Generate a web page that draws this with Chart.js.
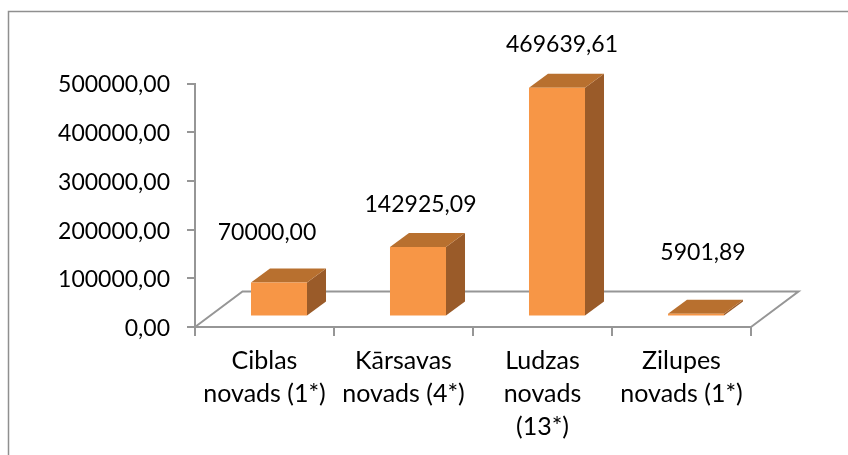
<!DOCTYPE html>
<html>
<head>
<meta charset="utf-8">
<style>html,body{margin:0;padding:0;background:#fff}canvas{display:block}</style>
<script src="https://cdn.jsdelivr.net/npm/chart.js@4"></script>
</head>
<body>
<canvas id="c" width="848" height="455"></canvas>
<script>
const categories = [["Ciblas","novads (1*)"],["Kārsavas","novads (4*)"],["Ludzas","novads","(13*)"],["Zilupes","novads (1*)"]];
const values = [70000.00, 142925.09, 469639.61, 5901.89];
const valueLabels = ["70000,00","142925,09","469639,61","5901,89"];

const FONT = '23px Lato';
const AXIS = '#969696';
const FRONT = '#F79646', TOP = '#B8702F', SIDE = '#9A5B29';
const depth = {x: 19, y: -14};
const floorDepth = {x: 47.5, y: -35.5};
const barShift = {x: 14.5, y: -10.5};
const labelOffsets = [[-12,-50],[2.5,-42],[5,-43],[7,-61]];

const box3d = {
  id: 'box3d',
  beforeDraw(chart){
    const c = chart.ctx;
    c.save();
    c.strokeStyle = '#8f8f8f'; c.lineWidth = 1.5;
    c.beginPath(); c.moveTo(8.5,455); c.lineTo(8.5,11.5); c.lineTo(848,11.5); c.stroke();
    c.restore();
  },
  beforeDatasetsDraw(chart){
    const c = chart.ctx, a = chart.chartArea;
    c.save();
    c.strokeStyle = AXIS; c.lineWidth = 2;
    c.beginPath();
    c.moveTo(a.left, a.bottom);
    c.lineTo(a.left + floorDepth.x, a.bottom + floorDepth.y);
    c.lineTo(a.right + floorDepth.x, a.bottom + floorDepth.y);
    c.lineTo(a.right, a.bottom);
    c.stroke();
    c.translate(barShift.x, barShift.y);
    chart.getDatasetMeta(0).data.forEach(b => {
      const l = b.x - b.width/2, r = b.x + b.width/2, t = b.y, bt = b.base;
      c.fillStyle = SIDE;
      c.beginPath(); c.moveTo(r,t); c.lineTo(r+depth.x,t+depth.y); c.lineTo(r+depth.x,bt+depth.y); c.lineTo(r,bt); c.closePath(); c.fill();
      c.fillStyle = TOP;
      c.beginPath(); c.moveTo(l,t); c.lineTo(l+depth.x,t+depth.y); c.lineTo(r+depth.x,t+depth.y); c.lineTo(r,t); c.closePath(); c.fill();
    });
  },
  afterDatasetsDraw(chart){
    const c = chart.ctx;
    c.restore();
    c.save();
    c.font = FONT; c.fillStyle = '#000'; c.textAlign = 'center'; c.textBaseline = 'middle';
    chart.getDatasetMeta(0).data.forEach((b,i) => {
      c.fillText(valueLabels[i], b.x + barShift.x + labelOffsets[i][0], b.y + barShift.y + labelOffsets[i][1]);
    });
    c.restore();
  }
};

new Chart(document.getElementById('c'), {
  type: 'bar',
  data: { labels: categories, datasets: [{ data: values, backgroundColor: FRONT, borderWidth: 0, barPercentage: 0.403, categoryPercentage: 1, clip: false }] },
  plugins: [box3d],
  options: {
    responsive: false, animation: false,
    layout: { padding: { top: 83.5, right: 97, left: 0, bottom: 0 } },
    plugins: { legend: {display:false}, tooltip: {enabled:false}, title: {display:false} },
    scales: {
      x: {
        afterFit(s){ s.height = 128; },
        grid: { drawOnChartArea:false, color:AXIS, lineWidth:2, tickLength:9, tickColor:AXIS },
        border: { color:AXIS, width:2 },
        ticks: { color:'#000', font:{family:'Lato', size:25, lineHeight:1.32}, padding:8, maxRotation:0, autoSkip:false }
      },
      y: {
        min: 0, max: 500000,
        afterFit(s){ s.width = 195; },
        grid: { drawOnChartArea:false, color:AXIS, lineWidth:2, tickLength:8, tickColor:AXIS },
        border: { color:AXIS, width:2 },
        ticks: { color:'#000', font:{family:'Lato', size:23}, padding:17, stepSize:100000, labelOffset:1.5,
          callback: v => v.toFixed(2).replace('.',',') }
      }
    }
  }
});
</script>
</body>
</html>
